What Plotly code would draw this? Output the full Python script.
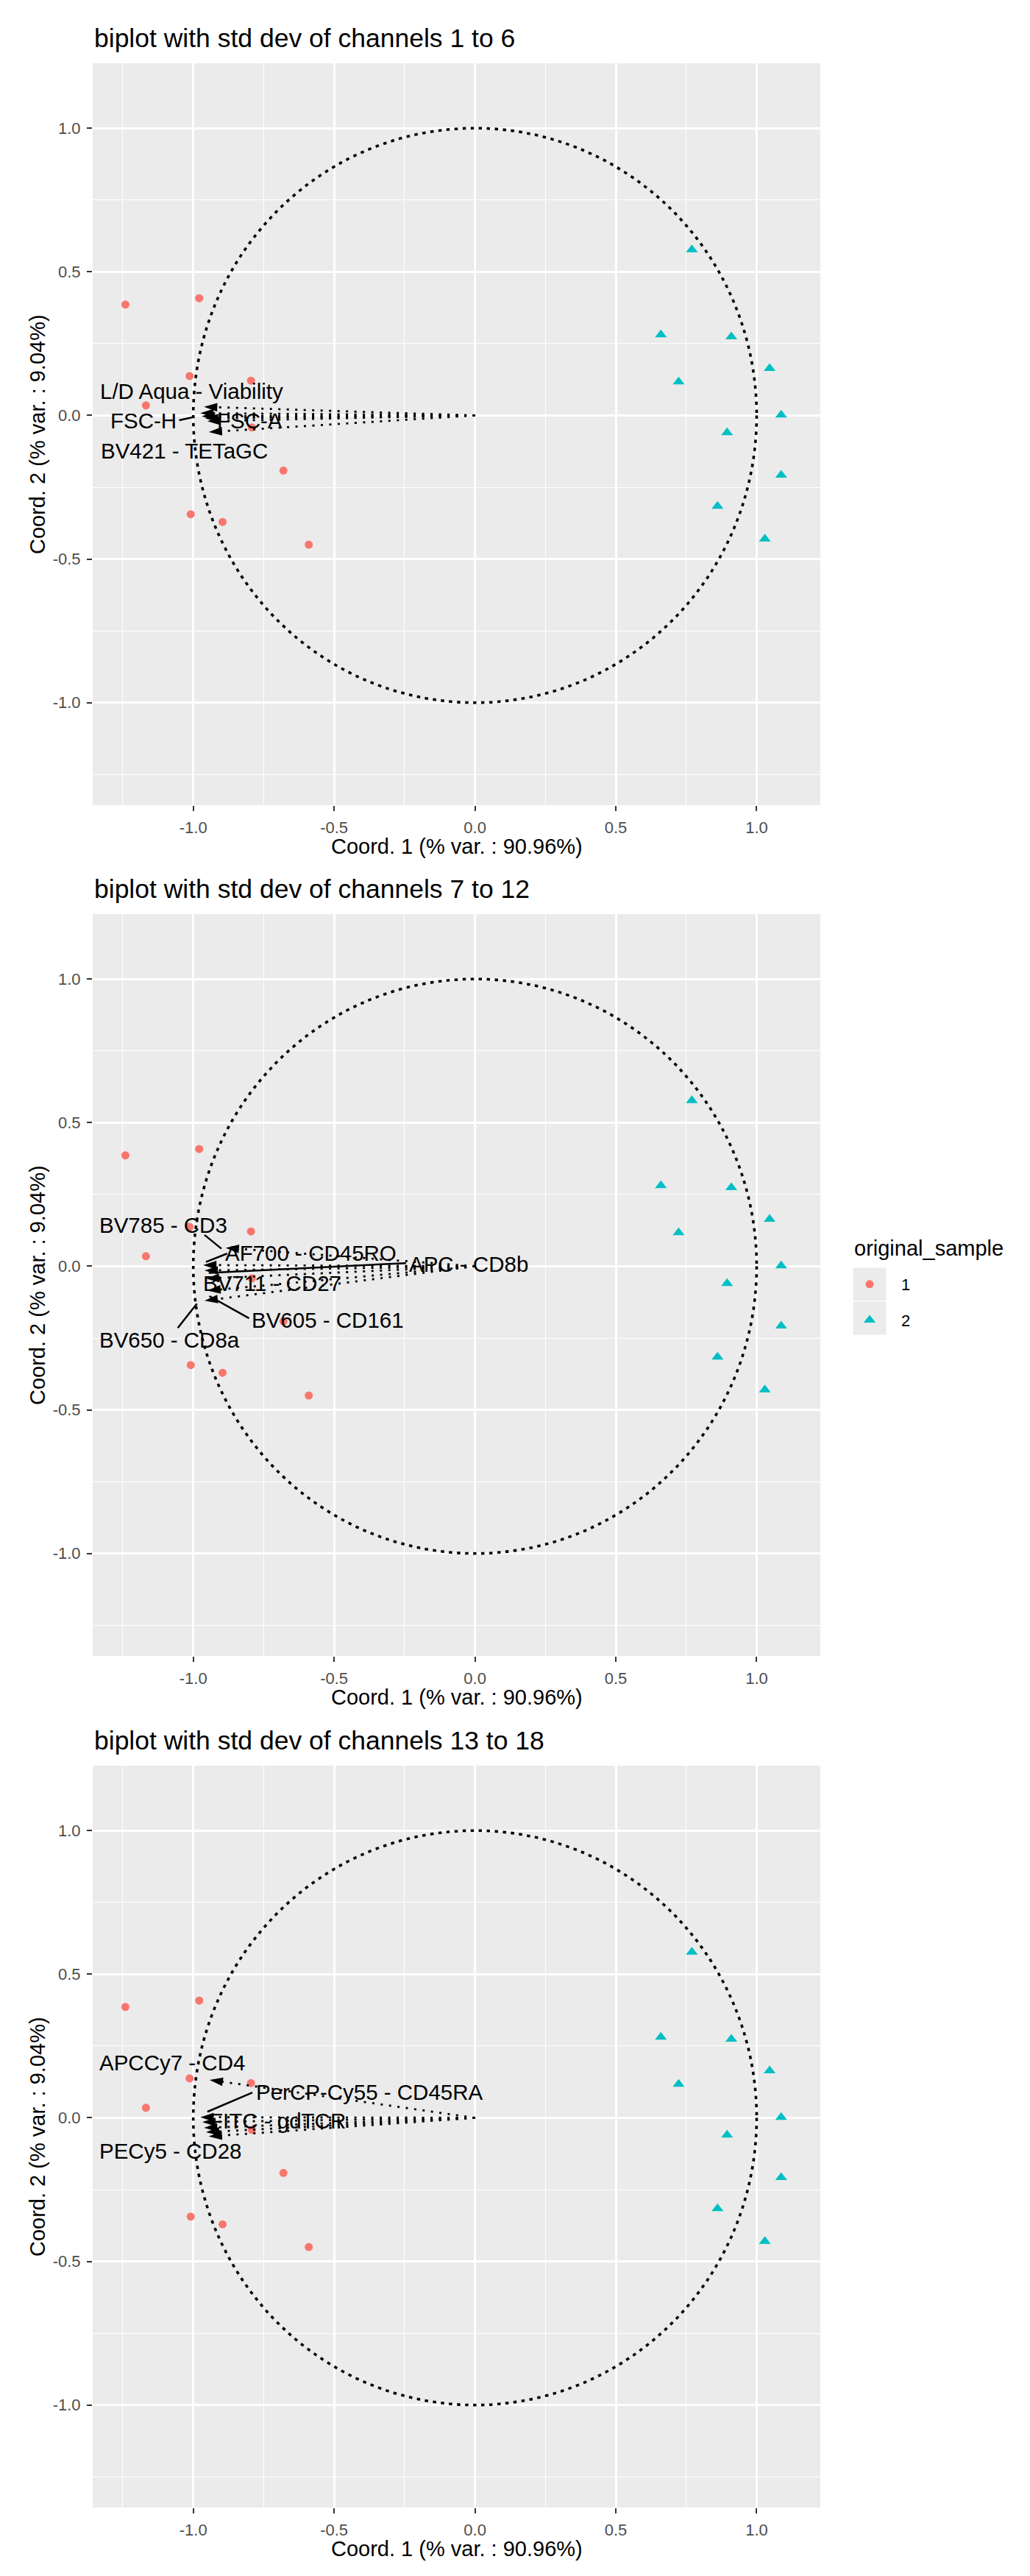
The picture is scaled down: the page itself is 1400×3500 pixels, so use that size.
import plotly.graph_objects as go

W, H = 1400, 3500

RED = "#F8766D"
TEAL = "#00BFC4"
PANEL_BG = "#EBEBEB"
FONT = "Liberation Sans"

# scores of the events on the first two coordinates, by original sample
sample1_x = [-1.241, -0.979, -1.013, -0.795, -1.168, -0.792, -0.680, -1.009, -0.896, -0.590]
sample1_y = [0.386, 0.408, 0.137, 0.121, 0.035, -0.042, -0.192, -0.344, -0.371, -0.450]
sample2_x = [0.770, 0.660, 0.910, 1.046, 0.723, 1.087, 0.895, 1.087, 0.861, 1.029]
sample2_y = [0.577, 0.281, 0.274, 0.164, 0.117, 0.002, -0.060, -0.208, -0.316, -0.430]
sample_names = ["1", "2"]
legend_title = "original_sample"

tick_vals = [-1.0, -0.5, 0.0, 0.5, 1.0]
tick_text = ["-1.0", "-0.5", "0.0", "0.5", "1.0"]
minor_vals = [-1.25, -0.75, -0.25, 0.25, 0.75]
axis_range = [-1.357, 1.226]
circle_radius = 1.0

titles = [
    "biplot with std dev of channels 1 to 6",
    "biplot with std dev of channels 7 to 12",
    "biplot with std dev of channels 13 to 18",
]
x_title = "Coord. 1 (% var. : 90.96%)"
y_title = "Coord. 2 (% var. : 9.04%)"

# channel loadings (arrow tips)
arrows1_x = [-0.962, -0.975, -0.970, -0.958, -0.950, -0.945]
arrows1_y = [0.030, 0.008, -0.003, -0.010, -0.020, -0.058]
arrows2_x = [-0.885, -0.965, -0.960, -0.955, -0.950, -0.960]
arrows2_y = [0.064, 0.004, -0.015, -0.043, -0.085, -0.120]
arrows3_x = [-0.942, -0.975, -0.968, -0.962, -0.955, -0.945]
arrows3_y = [0.132, 0.002, -0.015, -0.035, -0.050, -0.065]

# repelled channel labels
labels1 = ["L/D Aqua - Viability", "FSC-H", "FSC-A", "BV421 - TETaGC"]
labels1_x = [-1.007, -1.178, -0.800, -1.031]
labels1_y = [0.085, -0.017, -0.017, -0.122]
seg1_x0 = [None, -1.050, None, None]
seg1_y0 = [None, -0.017, None, None]
seg1_x1 = [None, -0.996, None, None]
seg1_y1 = [None, -0.005, None, None]

labels2 = ["BV785 - CD3", "AF700 - CD45RO", "APC - CD8b", "BV711 - CD27",
           "BV605 - CD161", "BV650 - CD8a"]
labels2_x = [-1.106, -0.582, -0.022, -0.720, -0.522, -1.085]
labels2_y = [0.143, 0.045, 0.008, -0.060, -0.186, -0.256]
seg2_x0 = [-0.960, -0.880, -0.245, None, -0.802, -1.055]
seg2_y0 = [0.109, 0.044, 0.011, None, -0.181, -0.215]
seg2_x1 = [-0.900, -0.955, -0.945, None, -0.943, -0.987]
seg2_y1 = [0.061, 0.015, -0.023, None, -0.104, -0.130]

labels3 = ["APCCy7 - CD4", "PerCP-Cy55 - CD45RA", "FITC - gdTCR", "PECy5 - CD28"]
labels3_x = [-1.075, -0.375, -0.700, -1.082]
labels3_y = [0.193, 0.090, -0.010, -0.115]
seg3_x0 = [None, -0.790, None, None]
seg3_y0 = [None, 0.088, None, None]
seg3_x1 = [None, -0.950, None, None]
seg3_y1 = [None, 0.021, None, None]

panels = [
    (arrows1_x, arrows1_y, labels1, labels1_x, labels1_y, seg1_x0, seg1_y0, seg1_x1, seg1_y1),
    (arrows2_x, arrows2_y, labels2, labels2_x, labels2_y, seg2_x0, seg2_y0, seg2_x1, seg2_y1),
    (arrows3_x, arrows3_y, labels3, labels3_x, labels3_y, seg3_x0, seg3_y0, seg3_x1, seg3_y1),
]

# pixel layout of the three stacked panels
PANEL_LEFT, PANEL_RIGHT = 118, 1107
PANEL_TOPS = [78, 1234, 2391]
PANEL_H = 1008


def px_x(p):
    return p / W


def px_y(p):
    return 1 - p / H


fig = go.Figure()
annotations = []
shapes = []

for i, (ax_, ay_, labs, lx, ly, sx0, sy0, sx1, sy1) in enumerate(panels):
    n = "" if i == 0 else str(i + 1)
    xa, ya = "x" + n, "y" + n
    top = PANEL_TOPS[i]

    # sample points
    fig.add_trace(go.Scatter(
        x=sample1_x, y=sample1_y, mode="markers", xaxis=xa, yaxis=ya,
        name=sample_names[0], legendgroup="1", showlegend=(i == 0),
        marker=dict(symbol="circle", size=11, color=RED),
    ))
    fig.add_trace(go.Scatter(
        x=sample2_x, y=sample2_y, mode="markers", xaxis=xa, yaxis=ya,
        name=sample_names[1], legendgroup="2", showlegend=(i == 0),
        marker=dict(symbol="triangle-up", size=14, color=TEAL),
    ))

    # loading arrows, dotted, from the origin
    for tx, ty in zip(ax_, ay_):
        fig.add_trace(go.Scatter(
            x=[0, tx], y=[0, ty], mode="lines+markers", xaxis=xa, yaxis=ya,
            showlegend=False, hoverinfo="skip",
            line=dict(color="black", width=2.8, dash="3px,8.5px"),
            marker=dict(symbol="arrow", size=19, color="black", angleref="previous"),
        ))

    # label connector segments
    for a, b, c, d in zip(sx0, sy0, sx1, sy1):
        if a is None:
            continue
        fig.add_trace(go.Scatter(
            x=[a, c], y=[b, d], mode="lines", xaxis=xa, yaxis=ya,
            showlegend=False, hoverinfo="skip",
            line=dict(color="black", width=2.5),
        ))

    for t, x, y in zip(labs, lx, ly):
        annotations.append(dict(
            x=x, y=y, xref=xa, yref=ya, text=t, showarrow=False,
            font=dict(family=FONT, size=29.5, color="black"),
        ))

    # correlation circle
    shapes.append(dict(
        type="circle", xref=xa, yref=ya,
        x0=-circle_radius, y0=-circle_radius, x1=circle_radius, y1=circle_radius,
        line=dict(color="black", width=3.6, dash="4.5px,6.5px"), layer="between",
    ))

    axis_common = dict(
        range=axis_range, tickvals=tick_vals, ticktext=tick_text,
        ticks="outside", ticklen=7, tickwidth=2.4, tickcolor="#333333",
        tickfont=dict(family=FONT, size=22, color="#4D4D4D"),
        showgrid=True, gridcolor="white", gridwidth=2.6,
        minor=dict(tickvals=minor_vals, showgrid=True, gridcolor="white",
                   gridwidth=1.3, ticks=""),
        zeroline=False, showline=False, fixedrange=True,
        ticklabelstandoff=4,
    )
    fig.update_layout(**{
        "xaxis" + n: dict(axis_common, domain=[px_x(PANEL_LEFT), px_x(PANEL_RIGHT)], anchor=ya),
        "yaxis" + n: dict(axis_common, domain=[px_y(top + PANEL_H), px_y(top)], anchor=xa),
    })

    # panel title and axis titles
    annotations.append(dict(
        x=px_x(PANEL_LEFT), y=px_y(top - 34.5), xref="paper", yref="paper",
        xanchor="left", yanchor="middle", showarrow=False, text=titles[i],
        font=dict(family=FONT, size=35.5, color="black"),
    ))
    annotations.append(dict(
        x=px_x((PANEL_LEFT + PANEL_RIGHT) / 2), y=px_y(top + PANEL_H + 56),
        xref="paper", yref="paper", xanchor="center", yanchor="middle",
        showarrow=False, text=x_title,
        font=dict(family=FONT, size=29, color="black"),
    ))
    annotations.append(dict(
        x=px_x(43), y=px_y(top + PANEL_H / 2), xref="paper", yref="paper",
        xanchor="center", yanchor="middle", showarrow=False, text=y_title,
        textangle=-90, font=dict(family=FONT, size=29, color="black"),
    ))

# legend title and grey legend key backgrounds
annotations.append(dict(
    x=px_x(1151), y=px_y(1688), xref="paper", yref="paper",
    xanchor="left", yanchor="middle", showarrow=False, text=legend_title,
    font=dict(family=FONT, size=29, color="black"),
))
for k in range(2):
    shapes.append(dict(
        type="rect", xref="paper", yref="paper",
        x0=px_x(1151), x1=px_x(1197), y0=px_y(1714 + 46 * (k + 1)), y1=px_y(1714 + 46 * k),
        fillcolor=PANEL_BG, line=dict(color="white", width=1), layer="below",
    ))

fig.update_layout(
    width=W, height=H,
    margin=dict(l=0, r=0, t=0, b=0),
    paper_bgcolor="white", plot_bgcolor=PANEL_BG,
    font=dict(family=FONT, color="black"),
    annotations=annotations, shapes=shapes,
    legend=dict(
        x=px_x(1131), y=px_y(1716), xanchor="left", yanchor="top",
        bgcolor="rgba(0,0,0,0)", tracegroupgap=17, itemwidth=76,
        font=dict(family=FONT, size=22, color="black"),
    ),
)

fig.write_html("out.html")
